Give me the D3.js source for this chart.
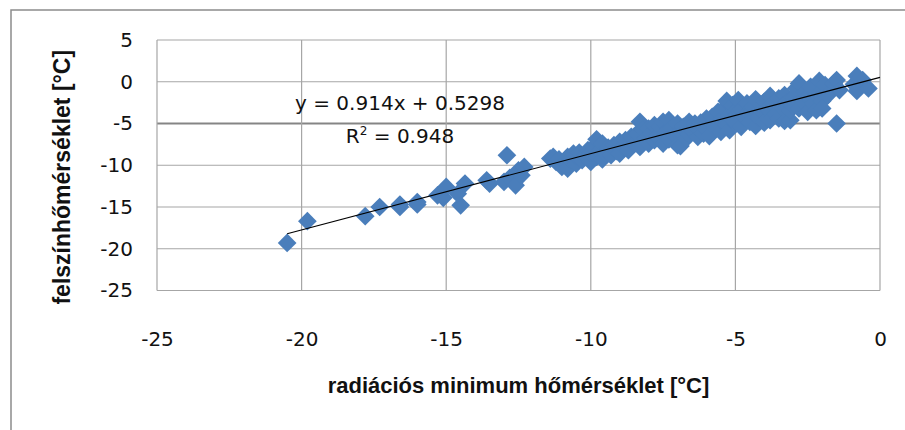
<!DOCTYPE html>
<html>
<head>
    <meta charset="utf-8">
    <title>radiációs minimum vs felszínhőmérséklet</title>
    <script src="https://d3js.org/d3.v7.min.js"></script>
    <style>
        body { margin: 0; background: #fff; }
        .tick text { font: 20px "DejaVu Sans", sans-serif; fill: #111; }
        .grid line { stroke: #a6a6a6; stroke-width: 1.2px; }
        .eq { font: 20px "DejaVu Sans", sans-serif; fill: #111; text-anchor: middle; }
        .title { font: bold 22px "Liberation Sans", Arial, sans-serif; fill: #111; text-anchor: middle; }
    </style>
</head>
<body>
<svg width="905" height="430"></svg>
<script>
    // radiációs minimum (x) és felszínhőmérséklet (y), °C
    var radMin = [
        -20.5, -19.8, -17.8, -17.3, -16.6, -16.6, -16.0, -16.0, -15.3, -15.1,
        -15.0, -14.5, -14.6, -14.35, -13.6, -13.5, -12.9, -13.0, -12.8, -12.5,
        -12.6, -12.3, -12.4,
        -11.4, -11.3, -11.2, -11.1, -11.0, -10.9, -10.8, -10.8, -10.7, -10.6,
        -10.5, -10.5, -10.4, -10.3, -10.2, -10.1, -10.0, -10.0,
        -9.9, -9.8, -9.8, -9.7, -9.6, -9.6, -9.5, -9.4, -9.3, -9.2, -9.1, -9.0, -9.0,
        -8.9, -8.8, -8.7, -8.6, -8.5, -8.4, -8.3, -8.3, -8.2, -8.1, -8.0, -8.0,
        -7.9, -7.8, -7.8, -7.7, -7.6, -7.5, -7.5, -7.4, -7.3, -7.3, -7.2, -7.1,
        -7.0, -7.0, -6.9, -6.9,
        -6.8, -6.7, -6.6, -6.6, -6.5, -6.4, -6.3, -6.3, -6.2, -6.1, -6.0, -6.0,
        -5.9, -5.8, -5.8, -5.7, -5.6, -5.5, -5.5, -5.4, -5.3, -5.3, -5.2, -5.2,
        -5.1, -5.0, -5.0, -5.1,
        -4.9, -4.8, -4.8, -4.7, -4.6, -4.5, -4.5, -4.4, -4.3, -4.3, -4.2, -4.1,
        -4.0, -4.0,
        -3.9, -3.8, -3.8, -3.7, -3.6, -3.5, -3.5, -3.4, -3.3, -3.3, -3.2, -3.1,
        -3.1, -3.0, -3.0,
        -2.9, -2.8, -2.8, -2.7, -2.6, -2.5, -2.5, -2.4, -2.3, -2.2, -2.1, -2.1,
        -2.0, -2.0,
        -1.9, -1.8, -1.6, -1.5, -1.5, -1.4, -0.8, -0.8, -0.6, -0.4, -0.9
    ];
    var surfTemp = [
        -19.3, -16.7, -16.1, -15.0, -15.0, -14.7, -14.4, -14.7, -13.6, -13.9,
        -12.6, -14.8, -13.4, -12.2, -11.8, -12.2, -8.8, -12.0, -11.5, -10.6,
        -12.4, -10.2, -11.2,
        -9.2, -9.0, -9.6, -9.3, -10.2, -9.6, -10.4, -9.0, -9.3, -8.6,
        -9.8, -8.9, -8.5, -9.4, -8.8, -8.2, -9.6, -8.5,
        -7.8, -6.9, -9.0, -8.3, -7.4, -9.3, -8.6, -7.9, -8.8, -7.6, -8.3, -7.2, -8.6,
        -7.8, -7.0, -8.2, -6.6, -7.4, -6.2, -4.8, -7.8, -5.8, -6.8, -7.4, -5.6,
        -6.2, -5.2, -7.0, -6.6, -5.4, -4.8, -7.4, -6.0, -4.6, -6.9, -5.5, -6.4,
        -7.6, -5.0, -7.7, -6.0,
        -5.4, -6.8, -4.8, -6.3, -5.8, -5.0, -6.6, -5.5, -4.9, -6.2, -4.4, -5.7,
        -6.5, -5.0, -4.2, -5.6, -3.6, -6.0, -4.6, -3.2, -5.2, -2.3, -4.0, -5.8,
        -2.8, -3.6, -5.0, -4.5,
        -2.2, -3.3, -5.4, -4.2, -2.6, -3.8, -4.8, -3.0, -5.3, -2.1, -4.3, -3.5,
        -2.4, -4.9,
        -3.2, -1.7, -4.6, -2.6, -3.9, -2.0, -4.4, -3.0, -1.6, -4.7, -2.4, -4.6,
        -3.4, -1.9, -2.9,
        -0.8, -3.2, -0.2, -2.2, -1.2, -3.6, -1.8, -0.6, -2.6, -3.4, 0.1, -1.4,
        -2.3, -3.2,
        -0.4, -1.6, -0.2, 0.2, -5.0, -1.0, 0.7, -1.1, 0.2, -0.8, -0.3
    ];
    var xTicks = [-25, -20, -15, -10, -5, 0];
    var yTicks = [-25, -20, -15, -10, -5, 0, 5];
    var slope = 0.914, intercept = 0.5298;

    var svg = d3.select("svg"),
        pLeft = 157, pTop = 40, pRight = 880, pBottom = 290.5;

    // keret
    svg.append("rect")
        .attr("x", 11).attr("y", 10)
        .attr("width", 905).attr("height", 440)
        .attr("fill", "#fff")
        .attr("stroke", "#8c8c8c")
        .attr("stroke-width", 1.5);

    var x = d3.scaleLinear().domain([-25, 0]).range([pLeft, pRight]);
    var y = d3.scaleLinear().domain([-25, 5]).range([pBottom, pTop]);
    var fmt = function (d) { return String(d); }; // sima kötőjel, nem U+2212

    // rácsvonalak
    var grid = svg.append("g").attr("class", "grid");
    grid.selectAll(".h").data(yTicks).enter().append("line")
        .attr("x1", pLeft).attr("x2", pRight)
        .attr("y1", function (d) { return y(d); })
        .attr("y2", function (d) { return y(d); })
        .style("stroke", function (d) { return d === -5 ? "#858585" : null; })
        .style("stroke-width", function (d) { return d === -5 ? 2 : null; });
    grid.selectAll(".v").data(xTicks).enter().append("line")
        .attr("y1", pTop).attr("y2", pBottom)
        .attr("x1", function (d) { return x(d); })
        .attr("x2", function (d) { return x(d); });

    // tengelyfeliratok
    var xAxis = svg.append("g")
        .attr("transform", "translate(0," + (pBottom + 41) + ")")
        .call(d3.axisBottom(x).tickValues(xTicks).tickFormat(fmt).tickSize(0).tickPadding(0));
    xAxis.select(".domain").remove();
    xAxis.selectAll("text").attr("dy", "0.71em");

    var yAxis = svg.append("g")
        .attr("transform", "translate(" + (pLeft - 24) + ",0)")
        .call(d3.axisLeft(y).tickValues(yTicks).tickFormat(fmt).tickSize(0).tickPadding(0));
    yAxis.select(".domain").remove();

    // pontok
    var pts = d3.zip(radMin, surfTemp);
    var diamond = d3.symbol().type(d3.symbolSquare).size(175);
    svg.append("g").selectAll("path").data(pts).enter().append("path")
        .attr("d", diamond)
        .attr("fill", "#4a7ebb")
        .attr("transform", function (d) {
            return "translate(" + x(d[0]) + "," + y(d[1]) + ") rotate(45)";
        });

    // trendvonal
    var x0 = d3.min(radMin), x1 = 0;
    svg.append("line")
        .attr("x1", x(x0)).attr("y1", y(slope * x0 + intercept))
        .attr("x2", x(x1)).attr("y2", y(slope * x1 + intercept))
        .attr("stroke", "#000")
        .attr("stroke-width", 1.2);

    svg.append("text").attr("class", "eq")
        .attr("x", 400).attr("y", 110)
        .text("y = 0.914x + 0.5298");
    var r2 = svg.append("text").attr("class", "eq")
        .attr("x", 400).attr("y", 143);
    r2.append("tspan").text("R");
    r2.append("tspan").attr("font-size", "12px").attr("dy", -8).text("2");
    r2.append("tspan").attr("dy", 8).text(" = 0.948");

    svg.append("text").attr("class", "title")
        .attr("x", (pLeft + pRight) / 2).attr("y", 393)
        .text("radiációs minimum hőmérséklet [°C]");
    svg.append("text").attr("class", "title")
        .attr("transform", "translate(70," + ((pTop + pBottom) / 2 + 12) + ") rotate(-90)")
        .style("font-size", "23px")
        .text("felszínhőmérséklet [°C]");
</script>
</body>
</html>
